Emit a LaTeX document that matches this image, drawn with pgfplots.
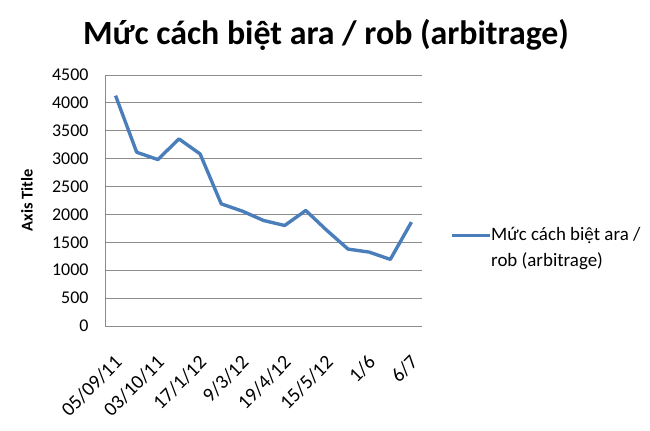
\documentclass[border=0pt]{standalone}
\usepackage{fontspec}
\setmainfont{Carlito}
\usepackage{pgfplots}
\pgfplotsset{compat=1.18}
\definecolor{excelblue}{HTML}{4A7EBB}
\definecolor{gridgray}{HTML}{8C8C8C}
\begin{document}
\begin{tikzpicture}[x=1bp,y=1bp]
\useasboundingbox (0,0) rectangle (650,430);
\begin{axis}[
  at={(105bp,104bp)}, anchor=south west,
  scale only axis, width=317bp, height=251bp,
  xmin=0.5, xmax=15.5, ymin=0, ymax=4500,
  ytick={0,500,...,4500},
  xtick={1,3,5,7,9,11,13,15},
  xticklabels={05/09/11,03/10/11,17/1/12,9/3/12,19/4/12,15/5/12,1/6,6/7},
  /pgf/number format/assume math mode=true,
  /pgf/number format/1000 sep={},
  ymajorgrids, grid style={gridgray, line width=0.8pt},
  axis x line*=bottom, axis y line*=left,
  axis line style={gridgray, line width=0.8pt, -},
  major tick length=0pt,
  yticklabel style={font=\fontsize{18}{20}\selectfont, xshift=-13bp},
  xticklabel style={font=\fontsize{20}{22}\selectfont, xshift=3bp, rotate=45, anchor=east, inner sep=0pt},
  xticklabel shift=33bp,
  ylabel={\bfseries Axis Title},
  ylabel style={font=\fontsize{16.5}{18}\selectfont, at={(-78bp,126bp)}, rotate=0, anchor=center},
  clip=false,
]
\addplot[excelblue, line width=3.4pt, line join=round] coordinates {
(1,4130) (2,3115) (3,2984) (4,3354) (5,3085) (6,2190) (7,2059) (8,1892)
(9,1802) (10,2071) (11,1713) (12,1379) (13,1325) (14,1194) (15,1862)
};
\end{axis}
\node[anchor=base, font=\bfseries\fontsize{34}{40}\selectfont] at (326,386) {Mức cách biệt ara / rob (arbitrage)};
\draw[excelblue, line width=3.4pt] (452,194.3) -- (490,194.3);
\node[anchor=base west, inner sep=0pt, font=\fontsize{19}{26}\selectfont] at (491,189.3) {Mức cách biệt ara /};
\node[anchor=base west, inner sep=0pt, font=\fontsize{19}{26}\selectfont] at (491,163.3) {rob (arbitrage)};
\end{tikzpicture}
\end{document}
